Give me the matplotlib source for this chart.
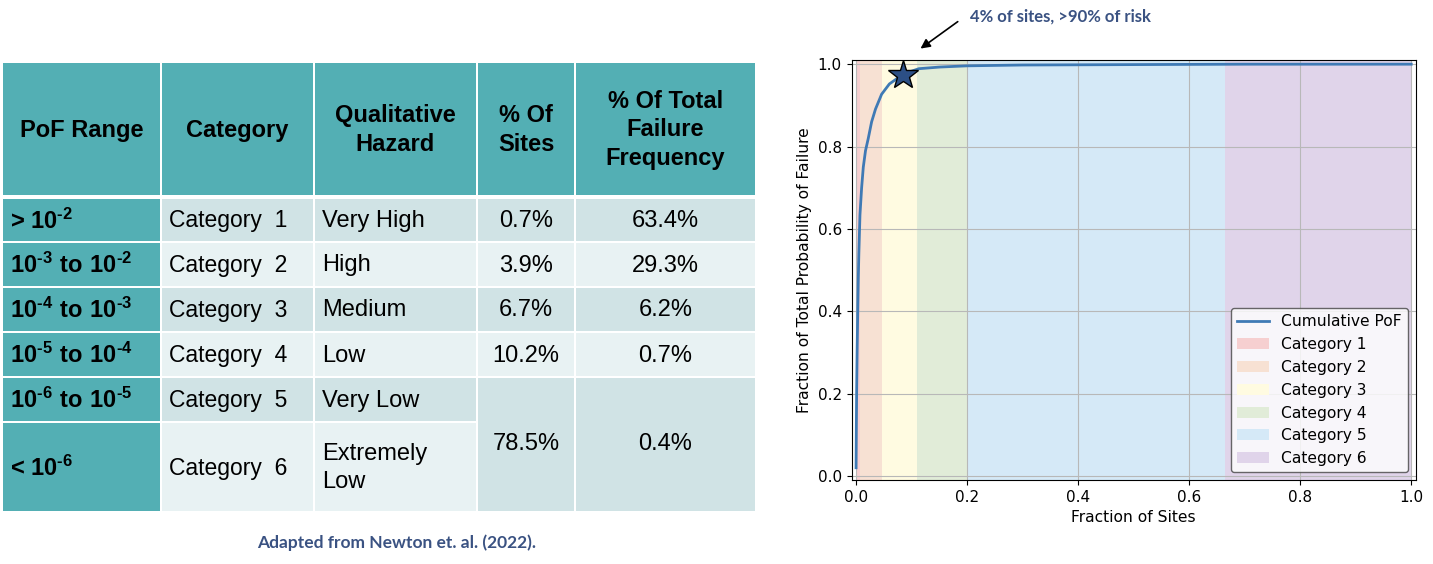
import matplotlib
matplotlib.use('Agg')
import matplotlib.pyplot as plt
from matplotlib.patches import Rectangle

# данные таблицы
header = ['PoF Range', 'Category', 'Qualitative\nHazard', '% Of\nSites', '% Of Total\nFailure\nFrequency']
pof_range = [r'$\mathbf{\text{> }10^{\text{-}2}}$', r'$\mathbf{10^{\text{-}3}\ to\ 10^{\text{-}2}}$',
             r'$\mathbf{10^{\text{-}4}\ to\ 10^{\text{-}3}}$', r'$\mathbf{10^{\text{-}5}\ to\ 10^{\text{-}4}}$',
             r'$\mathbf{10^{\text{-}6}\ to\ 10^{\text{-}5}}$', r'$\mathbf{\text{< }10^{\text{-}6}}$']
categories = ['Category  1', 'Category  2', 'Category  3', 'Category  4', 'Category  5', 'Category  6']
hazard = ['Very High', 'High', 'Medium', 'Low', 'Very Low', 'Extremely\nLow']
pct_sites = ['0.7%', '3.9%', '6.7%', '10.2%', '78.5%']
pct_failure = ['63.4%', '29.3%', '6.2%', '0.7%', '0.4%']

# данные графика
frac_sites = [0.0, 0.0005, 0.001, 0.002, 0.003, 0.004, 0.005, 0.007, 0.01, 0.013, 0.017, 0.022,
              0.028, 0.035, 0.046, 0.06, 0.08, 0.1, 0.113, 0.15, 0.2, 0.3, 0.5, 0.7, 1.0]
cum_pof = [0.02, 0.12, 0.2, 0.31, 0.4, 0.48, 0.54, 0.634, 0.70, 0.75, 0.79, 0.82,
           0.86, 0.891, 0.927, 0.952, 0.971, 0.983, 0.989, 0.993, 0.996, 0.998, 0.999, 1.0, 1.0]
cat_bounds = [0.0, 0.007, 0.046, 0.11, 0.2, 0.665, 1.0]
cat_labels = ['Category 1', 'Category 2', 'Category 3', 'Category 4', 'Category 5', 'Category 6']
star_point = (0.085, 0.973)

plt.rcParams['mathtext.fontset'] = 'custom'
plt.rcParams['mathtext.rm'] = 'Liberation Sans:bold'
plt.rcParams['mathtext.bf'] = 'Liberation Sans:bold'

fig = plt.figure(figsize=(14.33, 5.64), dpi=100)

# ---- таблица (координаты в пикселях) ----
tax = fig.add_axes([0, 0, 1, 1])
tax.set_xlim(0, 1433)
tax.set_ylim(564, 0)
tax.axis('off')

teal = '#53afb4'
dark = '#d0e3e5'
light = '#e8f2f3'
col_x = [2, 161, 314, 477, 575, 756]
rows_y = [(199, 241), (243, 286), (288, 331), (333, 376), (378, 421), (423, 511)]
tf = 'Liberation Sans'
fs = 17

def cell(x0, x1, y0, y1, color):
    tax.add_patch(Rectangle((x0, y0), x1 - x0, y1 - y0, facecolor=color, edgecolor='none'))

# шапка
for i, h in enumerate(header):
    cell(col_x[i] + 1, col_x[i + 1] - 1, 63, 195, teal)
    tax.text((col_x[i] + col_x[i + 1]) / 2, 130, h, ha='center', va='center', fontsize=fs,
             fontweight='bold', family=tf, linespacing=1.3)

# строки
for r, (y0, y1) in enumerate(rows_y):
    shade = dark if r % 2 == 0 else light
    cell(col_x[0] + 1, col_x[1] - 1, y0, y1, teal)
    cell(col_x[1] + 1, col_x[2] - 1, y0, y1, shade)
    cell(col_x[2] + 1, col_x[3] - 1, y0, y1, shade)
    yc = (y0 + y1) / 2 + 1
    tax.text(10, yc, pof_range[r], ha='left', va='center', fontsize=fs, family=tf)
    tax.text(169, yc, categories[r], ha='left', va='center', fontsize=16.5, family=tf)
    tax.text(322, yc, hazard[r], ha='left', va='center', fontsize=fs, family=tf, linespacing=1.35)
    if r < 4:
        cell(col_x[3] + 1, col_x[4] - 1, y0, y1, shade)
        cell(col_x[4] + 1, col_x[5] - 1, y0, y1, shade)
        tax.text((col_x[3] + col_x[4]) / 2, yc, pct_sites[r], ha='center', va='center', fontsize=fs, family=tf)
        tax.text((col_x[4] + col_x[5]) / 2, yc, pct_failure[r], ha='center', va='center', fontsize=fs, family=tf)

# объединённые ячейки для категорий 5 и 6
y0, y1 = rows_y[4][0], rows_y[5][1]
cell(col_x[3] + 1, col_x[4] - 1, y0, y1, dark)
cell(col_x[4] + 1, col_x[5] - 1, y0, y1, dark)
tax.text((col_x[3] + col_x[4]) / 2, (y0 + y1) / 2, pct_sites[4], ha='center', va='center', fontsize=fs, family=tf)
tax.text((col_x[4] + col_x[5]) / 2, (y0 + y1) / 2, pct_failure[4], ha='center', va='center', fontsize=fs, family=tf)

fig.text(397 / 1433, 1 - 543 / 564, 'Adapted from Newton et. al. (2022).', ha='center', va='center',
         fontsize=12.5, fontweight='bold', family='Lato', color='#3a5282')

# ---- график ----
ax = fig.add_axes([0.5943, 0.1488, 0.3936, 0.7447])
span_colors = ['#f6cfd0', '#f7e1d3', '#fffbe1', '#e1ecd8', '#d5e9f7', '#e0d4ea']
line, = ax.plot(frac_sites, cum_pof, color='#3f7ab5', lw=2, label='Cumulative PoF', zorder=3)
for i in range(6):
    ax.axvspan(cat_bounds[i], cat_bounds[i + 1], color=span_colors[i], lw=0, label=cat_labels[i])
ax.plot(*star_point, marker='*', markersize=22, color='#2c4f85', markeredgecolor='black', zorder=4)
ax.set_xlim(-0.008, 1.008)
ax.set_ylim(-0.01, 1.01)
ax.set_xticks([0, 0.2, 0.4, 0.6, 0.8, 1.0])
ax.set_yticks([0, 0.2, 0.4, 0.6, 0.8, 1.0])
ax.tick_params(labelsize=11)
ax.grid(True, color='#b8b8b8')
ax.set_xlabel('Fraction of Sites', fontsize=11.2)
ax.set_ylabel('Fraction of Total Probability of Failure', fontsize=11.2)
leg = ax.legend(loc='lower right', edgecolor='#444444', framealpha=0.8, fontsize=11.2)

# аннотация со стрелкой
ax.annotate('', xy=(0.112, 1.034), xytext=(960, 564 - 20), textcoords='figure pixels',
            arrowprops=dict(arrowstyle='-|>', color='black', lw=1.2, mutation_scale=14),
            annotation_clip=False)
fig.text(970 / 1433, 1 - 17 / 564, '4% of sites, >90% of risk', ha='left', va='center',
         fontsize=12, fontweight='bold', family='Lato', color='#3a5282')

fig.savefig('out.png', dpi=100)
